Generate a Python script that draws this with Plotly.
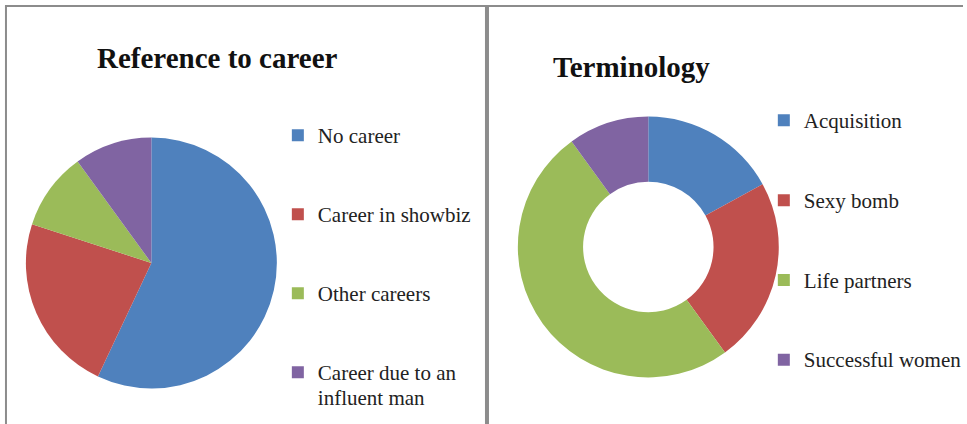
import plotly.graph_objects as go

W, H = 967, 424

career_labels = ["No career", "Career in showbiz", "Other careers", "Career due to an<br>influent man"]
career_values = [57, 23, 10, 10]

term_labels = ["Acquisition", "Sexy bomb", "Life partners", "Successful women"]
term_values = [17, 23, 50, 10]

colors = ["#4F81BD", "#C0504D", "#9BBB59", "#8064A2"]


def px_x(x):
    return x / W


def px_y(y):
    return 1 - y / H


def pad(labels, size, extra=2):
    out = []
    for i, lab in enumerate(labels):
        parts = lab.split("<br>")
        txt = "<br>".join('<span style="font-size:%.1fpx">%s</span>' % (size, p) for p in parts)
        if i < len(labels) - 1:
            txt = txt + "<br>\u00a0" * extra
        out.append(txt)
    return out


fig = go.Figure()

fig.add_trace(go.Pie(
    labels=pad(career_labels, 21), values=career_values,
    marker=dict(colors=colors, line=dict(width=0)),
    sort=False, direction="clockwise", rotation=0,
    textinfo="none", hoverinfo="label+value",
    domain=dict(x=[px_x(26), px_x(278)], y=[px_y(389), px_y(137)]),
    legend="legend",
))

fig.add_trace(go.Pie(
    labels=pad(term_labels, 21), values=term_values, hole=0.5,
    marker=dict(colors=colors, line=dict(width=0)),
    sort=False, direction="clockwise", rotation=0,
    textinfo="none", hoverinfo="label+value",
    domain=dict(x=[px_x(520), px_x(782)], y=[px_y(378), px_y(116)]),
    legend="legend2",
))

fig.update_layout(
    width=W, height=H,
    margin=dict(l=0, r=0, t=0, b=0),
    paper_bgcolor="white", plot_bgcolor="white",
    showlegend=True,
    legend=dict(x=px_x(279), y=px_y(116), xanchor="left", yanchor="top",
                font=dict(family="Liberation Serif", size=19.5, color="#222222"),
                valign="top", bgcolor="rgba(0,0,0,0)"),
    legend2=dict(x=px_x(767), y=px_y(101), xanchor="left", yanchor="top",
                 font=dict(family="Liberation Serif", size=19.7, color="#222222"),
                 valign="top", bgcolor="rgba(0,0,0,0)"),
    annotations=[
        dict(text="<b>Reference to career</b>", x=px_x(218), y=px_y(58),
             xref="paper", yref="paper", showarrow=False, xanchor="center", yanchor="middle",
             font=dict(family="Liberation Serif", size=29, color="#111111")),
        dict(text="<b>Terminology</b>", x=px_x(634), y=px_y(67),
             xref="paper", yref="paper", showarrow=False, xanchor="center", yanchor="middle",
             font=dict(family="Liberation Serif", size=29, color="#111111")),
    ],
    shapes=[
        dict(type="line", xref="paper", yref="paper", x0=px_x(5), x1=1, y0=px_y(6), y1=px_y(6),
             line=dict(color="#8c8c8c", width=2)),
        dict(type="line", xref="paper", yref="paper", x0=px_x(6), x1=px_x(6), y0=px_y(6), y1=0,
             line=dict(color="#8c8c8c", width=2)),
        dict(type="line", xref="paper", yref="paper", x0=px_x(489), x1=px_x(489), y0=px_y(6), y1=0,
             line=dict(color="#8c8c8c", width=4)),
    ],
)

fig.write_html("out.html", config=dict(displayModeBar=False),
               post_script="document.body.style.margin='0';document.body.style.overflow='hidden';")
